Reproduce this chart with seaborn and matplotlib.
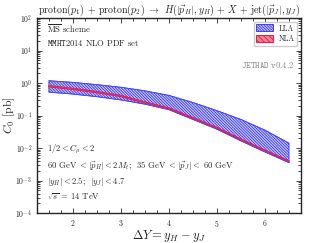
import numpy as np
import matplotlib
matplotlib.use("Agg")
import matplotlib.pyplot as plt
import seaborn as sns
import pandas as pd

# rapidity separation
dy = [1.5, 2.0, 2.5, 3.0, 3.5, 4.0, 4.5, 5.0, 5.5, 6.0, 6.5]
# log10 of the cross section [pb]
lla_up = [0.07, 0.02, -0.05, -0.13, -0.24, -0.38, -0.60, -0.85, -1.12, -1.45, -1.85]
lla_lo = [-0.28, -0.34, -0.42, -0.52, -0.65, -0.82, -1.12, -1.42, -1.78, -2.12, -2.45]
nla_up = [-0.08, -0.16, -0.26, -0.38, -0.58, -0.76, -1.06, -1.36, -1.72, -2.06, -2.39]
nla_lo = [-0.12, -0.20, -0.30, -0.42, -0.62, -0.80, -1.10, -1.40, -1.76, -2.10, -2.43]

df = pd.DataFrame({
    'dy': dy,
    'lla_up': 10 ** np.array(lla_up), 'lla_lo': 10 ** np.array(lla_lo),
    'nla_up': 10 ** np.array(nla_up), 'nla_lo': 10 ** np.array(nla_lo),
})

sns.set_style('ticks')
plt.rcParams['font.family'] = ['serif']
plt.rcParams['font.serif'] = ['cmr10', 'DejaVu Serif']
plt.rcParams['mathtext.fontset'] = 'cm'
plt.rcParams['axes.formatter.use_mathtext'] = True
plt.rcParams['hatch.linewidth'] = 0.6

fig = plt.figure(figsize=(3.1, 2.43), dpi=100)
ax = fig.add_axes([0.119, 0.123, 0.852, 0.803])

ax.fill_between(df['dy'], df['lla_lo'], df['lla_up'], facecolor='#d4d4ff',
                edgecolor='#2a2aff', hatch='\\' * 12, linewidth=0.6, label='LLA')
ax.fill_between(df['dy'], df['nla_lo'], df['nla_up'], facecolor='#ff8090',
                edgecolor='#e02050', hatch='\\' * 6, linewidth=0.8, label='NLA')
sns.lineplot(data=df, x='dy', y='lla_up', ax=ax, color='#4a4aff', lw=0.5, legend=False)
sns.lineplot(data=df, x='dy', y='lla_lo', ax=ax, color='#4a4aff', lw=0.5, legend=False)

ax.set_yscale('log')
ax.set_xlim(1.25, 6.75)
ax.set_ylim(1e-4, 1e2)
ax.set_xticks([2, 3, 4, 5, 6])
ax.xaxis.set_minor_locator(matplotlib.ticker.MultipleLocator(0.25))
ax.tick_params(which='both', direction='in', top=True, right=True, labelsize=5.5, width=0.6)
ax.tick_params(which='major', length=3.5)
ax.tick_params(which='minor', length=2)
for s in ax.spines.values():
    s.set_linewidth(1.0)

ax.set_xlabel(r'$\Delta Y = y_H - y_J$', fontsize=9, labelpad=-1)
ax.set_ylabel(r'$C_0$ [pb]', fontsize=8.5, labelpad=-1)
ax.set_title(r'proton$(p_1)$ + proton$(p_2)$ $\rightarrow$ $H(|\vec{p}_H|, y_H)$ + $X$ + jet$(|\vec{p}_J|, y_J)$',
             fontsize=7.2, pad=3)

tkw = dict(transform=ax.transAxes, fontsize=6.2, ha='left', va='center')
ax.text(0.04, 0.945, r'$\overline{\rm MS}$ scheme', **tkw)
ax.text(0.04, 0.872, r'$\mathtt{MMHT2014}$ NLO PDF set', **tkw)
ax.text(0.975, 0.76, r'$\mathtt{JETHAD\ v0.4.2}$', color='#888888',
        transform=ax.transAxes, fontsize=6.2, ha='right', va='center')
ax.text(0.04, 0.327, r'$1/2 < C_{\mu} < 2$', **tkw)
ax.text(0.04, 0.245, r'60 GeV $< |\vec{p}_H| < 2 M_t$;  35 GeV $< |\vec{p}_J| <$ 60 GeV', **tkw)
ax.text(0.04, 0.163, r'$|y_H| < 2.5$;  $|y_J| < 4.7$', **tkw)
ax.text(0.04, 0.082, r'$\sqrt{s}$ = 14 TeV', **tkw)

ax.legend(loc='upper right', fontsize=5.5, handlelength=2.2, handleheight=1.0,
          borderpad=0.3, labelspacing=0.3, framealpha=1, edgecolor='#cccccc')

fig.savefig('out.png', dpi=100)
